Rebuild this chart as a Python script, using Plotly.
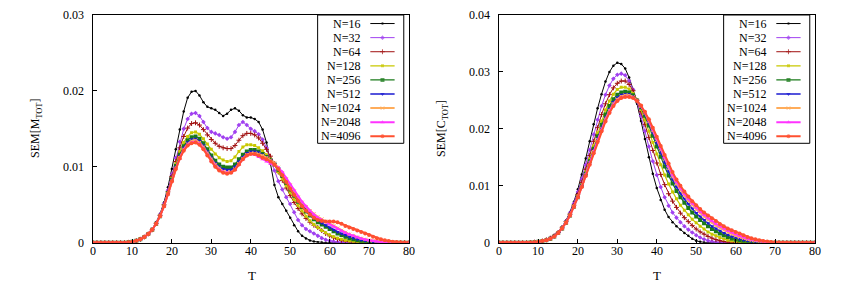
import plotly.graph_objects as go

# ---------------- data (values in units of 1e-3) ----------------
T = list(range(0, 81))
labels = ["N=16", "N=32", "N=64", "N=128", "N=256", "N=512", "N=1024", "N=2048", "N=4096"]
UNIT = 1e-3

M16 = [0,0,0,0,0,0,0,0,0,0.05,
       0.12,0.25,0.45,0.75,1.2,1.8,2.7,3.8,5.3,7.3,
       9.7,12.3,14.9,17.3,19.1,19.9,20.0,19.4,18.5,17.9,
       17.7,17.5,17.1,16.7,17.0,17.5,17.7,17.4,16.8,16.5,
       16.5,16.3,15.9,14.9,13.2,10.4,7.6,6.0,5.1,4.2,
       3.3,2.3,1.5,0.9,0.55,0.3,0.15,0.07,0.03,0,
       0,0,0,0,0,0,0,0,0,0,
       0,0,0,0,0,0,0,0,0,0,
       0]
M32 = [0,0,0,0,0,0,0,0,0,0.05,
       0.12,0.25,0.45,0.75,1.15,1.75,2.6,3.7,5.1,6.9,
       9.0,11.2,13.3,15.0,16.3,17.0,17.1,16.7,15.9,15.1,
       14.6,14.4,14.2,13.9,13.7,13.9,14.6,15.5,15.9,15.5,
       15.0,14.7,14.3,13.6,12.5,11.0,9.5,8.1,7.0,6.0,
       5.1,4.0,3.0,2.3,1.8,1.5,1.2,0.9,0.6,0.4,
       0.25,0.15,0.08,0.04,0,0,0,0,0,0,
       0,0,0,0,0,0,0,0,0,0,
       0]
M64 = [0,0,0,0,0,0,0,0,0,0.05,
       0.12,0.25,0.45,0.75,1.15,1.7,2.55,3.6,5.0,6.7,
       8.7,10.7,12.5,14.0,15.1,15.7,15.8,15.5,14.9,14.2,
       13.6,13.1,12.7,12.5,12.4,12.4,12.8,13.5,14.1,14.4,
       14.4,14.2,13.8,13.1,12.3,11.4,10.4,9.3,8.2,7.2,
       6.2,5.3,4.5,3.8,3.2,2.7,2.3,2.0,1.6,1.2,
       0.9,0.65,0.45,0.3,0.2,0.12,0.07,0.03,0,0,
       0,0,0,0,0,0,0,0,0,0,
       0]
M128 = [0,0,0,0,0,0,0,0,0,0.05,
        0.12,0.25,0.45,0.75,1.15,1.7,2.5,3.55,4.9,6.6,
        8.5,10.4,12.0,13.2,14.0,14.5,14.6,14.3,13.7,13.0,
        12.3,11.7,11.2,10.9,10.7,10.8,11.3,12.0,12.6,12.9,
        12.9,12.8,12.5,12.1,11.6,11.0,10.2,9.3,8.4,7.5,
        6.6,5.7,4.9,4.2,3.5,2.9,2.4,2.0,1.6,1.3,
        1.0,0.8,0.6,0.45,0.33,0.23,0.15,0.09,0.05,0.02,
        0,0,0,0,0,0,0,0,0,0,
        0]
M256 = [0,0,0,0,0,0,0,0,0,0.05,
        0.12,0.25,0.45,0.75,1.15,1.7,2.5,3.5,4.85,6.5,
        8.3,10.1,11.6,12.7,13.5,13.9,14.0,13.7,13.1,12.3,
        11.5,10.8,10.3,10.0,9.9,9.9,10.3,11.0,11.6,12.0,
        12.2,12.2,12.0,11.7,11.3,10.9,10.3,9.6,8.8,7.9,
        7.0,6.2,5.4,4.7,4.1,3.6,3.1,2.7,2.4,2.1,
        1.8,1.5,1.2,1.0,0.8,0.6,0.45,0.32,0.22,0.14,
        0.08,0.04,0.02,0,0,0,0,0,0,0,
        0]
M512 = [0,0,0,0,0,0,0,0,0,0.05,
        0.12,0.25,0.45,0.75,1.15,1.7,2.5,3.5,4.8,6.4,
        8.2,9.9,11.4,12.5,13.2,13.6,13.7,13.4,12.8,12.0,
        11.2,10.5,10.0,9.7,9.6,9.6,10.0,10.7,11.3,11.8,
        12.0,12.0,11.9,11.6,11.3,10.9,10.4,9.8,9.0,8.1,
        7.3,6.5,5.7,5.0,4.4,3.9,3.4,3.0,2.6,2.3,
        2.0,1.7,1.4,1.2,1.0,0.8,0.62,0.47,0.35,0.25,
        0.17,0.1,0.06,0.03,0,0,0,0,0,0,
        0]
M1024 = [0,0,0,0,0,0,0,0,0,0.05,
         0.12,0.25,0.45,0.75,1.15,1.7,2.5,3.5,4.8,6.4,
         8.1,9.8,11.2,12.3,13.0,13.4,13.5,13.2,12.6,11.8,
         11.0,10.3,9.8,9.4,9.3,9.3,9.7,10.4,11.1,11.6,
         11.8,11.8,11.7,11.5,11.2,10.9,10.5,9.9,9.2,8.4,
         7.6,6.8,6.0,5.3,4.7,4.2,3.8,3.4,3.1,2.8,
         2.5,2.2,1.9,1.6,1.35,1.1,0.9,0.72,0.56,0.43,
         0.32,0.23,0.16,0.1,0.06,0.03,0,0,0,0,
         0]
M2048 = [0,0,0,0,0,0,0,0,0,0.05,
         0.12,0.25,0.45,0.75,1.15,1.7,2.5,3.5,4.8,6.4,
         8.1,9.8,11.1,12.2,12.9,13.2,13.3,13.0,12.4,11.6,
         10.8,10.1,9.6,9.3,9.2,9.2,9.6,10.3,11.0,11.5,
         11.7,11.6,11.3,11.0,10.7,10.4,10.2,9.9,9.3,8.5,
         7.7,6.9,6.1,5.4,4.8,4.2,3.7,3.3,3.0,2.7,
         2.4,2.1,1.8,1.55,1.3,1.1,0.9,0.72,0.56,0.43,
         0.32,0.23,0.16,0.1,0.06,0.03,0,0,0,0,
         0]
M4096 = [0,0,0,0,0,0,0,0,0,0.05,
         0.12,0.25,0.45,0.75,1.15,1.7,2.5,3.5,4.8,6.4,
         8.1,9.7,11.1,12.1,12.8,13.1,13.2,12.9,12.3,11.5,
         10.7,10.0,9.5,9.2,9.1,9.2,9.6,10.3,11.0,11.5,
         11.7,11.7,11.5,11.2,11.0,10.7,10.3,9.7,8.9,8.0,
         7.1,6.3,5.5,4.8,4.2,3.7,3.3,3.0,2.85,2.8,
         2.8,2.8,2.7,2.5,2.2,2.0,1.8,1.6,1.4,1.2,
         1.0,0.8,0.6,0.45,0.33,0.22,0.14,0.08,0.05,0.03,
         0.02]

C16 = [0,0,0,0,0,0,0,0,0.03,0.1,
       0.2,0.3,0.5,0.8,1.3,1.9,2.8,3.9,5.4,7.2,
       9.4,12.0,14.8,17.8,20.8,23.6,26.1,28.3,30.0,31.1,
       31.6,31.4,30.6,29.0,26.9,24.4,21.4,18.2,15.0,12.1,
       9.6,7.5,5.8,4.5,3.6,2.9,2.3,1.7,1.2,0.7,
       0.35,0.15,0.05,0,0,0,0,0,0,0,
       0,0,0,0,0,0,0,0,0,0,
       0,0,0,0,0,0,0,0,0,0,
       0]
C32 = [0,0,0,0,0,0,0,0,0.03,0.1,
       0.2,0.3,0.5,0.8,1.2,1.8,2.7,3.8,5.2,6.9,
       8.9,11.2,13.7,16.3,19.0,21.6,24.0,26.0,27.6,28.8,
       29.5,29.7,29.4,28.4,26.9,24.8,22.3,19.6,16.9,14.3,
       11.9,9.8,8.0,6.5,5.3,4.4,3.6,2.9,2.3,1.8,
       1.3,0.9,0.6,0.35,0.2,0.1,0.04,0,0,0,
       0,0,0,0,0,0,0,0,0,0,
       0,0,0,0,0,0,0,0,0,0,
       0]
C64 = [0,0,0,0,0,0,0,0,0.03,0.1,
       0.2,0.3,0.5,0.8,1.2,1.8,2.6,3.7,5.0,6.6,
       8.5,10.6,12.9,15.3,17.8,20.2,22.5,24.4,26.0,27.2,
       28.0,28.4,28.4,27.8,26.7,25.0,23.0,20.8,18.5,16.2,
       14.0,12.0,10.2,8.6,7.3,6.2,5.2,4.4,3.7,3.0,
       2.4,1.9,1.5,1.1,0.8,0.55,0.35,0.2,0.1,0.05,
       0,0,0,0,0,0,0,0,0,0,
       0,0,0,0,0,0,0,0,0,0,
       0]
C128 = [0,0,0,0,0,0,0,0,0.03,0.08,
        0.15,0.28,0.45,0.7,1.1,1.8,2.6,3.6,4.9,6.4,
        8.2,10.2,12.4,14.7,17.0,19.3,21.4,23.3,24.9,26.1,
        26.9,27.3,27.3,27.0,26.2,25.0,23.4,21.6,19.6,17.6,
        15.6,13.7,11.9,10.3,8.9,7.7,6.6,5.7,4.9,4.1,
        3.5,2.9,2.4,1.9,1.5,1.2,0.9,0.65,0.45,0.3,
        0.18,0.1,0.05,0,0,0,0,0,0,0,
        0,0,0,0,0,0,0,0,0,0,
        0]
C256 = [0,0,0,0,0,0,0,0,0.03,0.08,
        0.15,0.28,0.45,0.7,1.1,1.7,2.5,3.5,4.8,6.3,
        8.0,10.0,12.1,14.3,16.5,18.7,20.7,22.5,24.0,25.2,
        26.0,26.4,26.5,26.4,25.9,25.0,23.8,22.3,20.6,18.8,
        16.9,15.1,13.4,11.8,10.4,9.1,8.0,7.0,6.1,5.3,
        4.6,4.0,3.4,2.9,2.4,2.0,1.6,1.3,1.0,0.75,
        0.55,0.4,0.27,0.17,0.1,0.05,0,0,0,0,
        0,0,0,0,0,0,0,0,0,0,
        0]
C512 = [0,0,0,0,0,0,0,0,0.03,0.08,
        0.15,0.28,0.45,0.7,1.1,1.7,2.5,3.5,4.8,6.3,
        8.0,9.9,12.0,14.1,16.2,18.3,20.2,22.0,23.5,24.7,
        25.5,26.0,26.1,26.1,25.7,25.0,23.9,22.6,21.0,19.3,
        17.5,15.8,14.1,12.5,11.1,9.8,8.7,7.7,6.8,6.0,
        5.2,4.6,4.0,3.4,2.9,2.5,2.1,1.7,1.4,1.1,
        0.85,0.65,0.48,0.34,0.23,0.15,0.09,0.05,0,0,
        0,0,0,0,0,0,0,0,0,0,
        0]
C1024 = [0,0,0,0,0,0,0,0,0.03,0.08,
         0.15,0.28,0.45,0.7,1.1,1.7,2.5,3.5,4.8,6.3,
         8.0,9.9,11.9,14.0,16.0,18.1,20.0,21.7,23.2,24.4,
         25.2,25.7,25.9,25.9,25.6,25.0,24.0,22.8,21.3,19.7,
         18.0,16.3,14.7,13.1,11.7,10.4,9.3,8.3,7.4,6.6,
         5.8,5.2,4.6,4.0,3.5,3.0,2.6,2.2,1.8,1.5,
         1.2,0.95,0.75,0.57,0.42,0.3,0.2,0.13,0.08,0.04,
         0,0,0,0,0,0,0,0,0,0,
         0]
C2048 = [0,0,0,0,0,0,0,0,0.03,0.08,
         0.15,0.28,0.45,0.7,1.1,1.7,2.5,3.5,4.8,6.3,
         8.0,9.9,11.8,13.9,15.9,17.9,19.8,21.5,23.0,24.2,
         25.0,25.5,25.7,25.7,25.5,24.9,24.0,22.9,21.5,19.9,
         18.3,16.6,15.0,13.5,12.0,10.7,9.6,8.6,7.7,6.9,
         6.2,5.5,4.9,4.3,3.8,3.3,2.9,2.5,2.1,1.8,
         1.5,1.2,0.95,0.75,0.57,0.42,0.3,0.2,0.13,0.08,
         0.04,0,0,0,0,0,0,0,0,0,
         0]
C4096 = [0,0,0,0,0,0,0,0,0.03,0.08,
         0.15,0.28,0.45,0.7,1.1,1.7,2.5,3.5,4.8,6.3,
         8.0,9.8,11.7,13.7,15.7,17.7,19.6,21.3,22.8,24.0,
         24.9,25.4,25.6,25.6,25.4,24.9,24.1,23.0,21.7,20.2,
         18.6,17.0,15.4,13.9,12.4,11.1,10.0,9.0,8.1,7.3,
         6.6,5.9,5.3,4.8,4.3,3.8,3.3,2.9,2.5,2.2,
         1.9,1.6,1.3,1.0,0.8,0.6,0.45,0.3,0.2,0.12,
         0.07,0.03,0.01,0,0,0,0,0,0,0,
         0]

M_series = [M16, M32, M64, M128, M256, M512, M1024, M2048, M4096]
C_series = [C16, C32, C64, C128, C256, C512, C1024, C2048, C4096]

x_ticks = [0, 10, 20, 30, 40, 50, 60, 70, 80]
x_tick_text = ["0", "10", "20", "30", "40", "50", "60", "70", "80"]
y1_ticks = [0, 0.01, 0.02, 0.03]
y1_tick_text = ["0", "0.01", "0.02", "0.03"]
y2_ticks = [0, 0.01, 0.02, 0.03, 0.04]
y2_tick_text = ["0", "0.01", "0.02", "0.03", "0.04"]

# ---------------- styles ----------------
colors = ["#000000", "#a040f0", "#a01010", "#c8c800", "#1a7a1a", "#1a1ad0", "#ffac5a", "#ff33ff", "#ff5030"]
symbols = ["circle", "diamond", "cross-thin", "square", "square", "triangle-down", "x-thin", "triangle-up", "circle"]
msizes = [2.5, 3.5, 3.5, 3, 4, 4, 3.5, 4, 4]
lwidths = [1, 1, 1, 1.2, 1.3, 1.3, 2, 2, 2]
FONT = "Liberation Serif"
TXT = dict(family=FONT, size=12, color="black")

# The browser puts the figure at an 8px body offset; figure is sized to fit the 849x294 window.
W, H, OFF = 841, 286, 8

def px(xp):
    return (xp - OFF) / W

def py(yp):
    return (H - (yp - OFF)) / H

fig = go.Figure()

def marker(i):
    m = dict(color=colors[i], symbol=symbols[i], size=msizes[i])
    if symbols[i] in ("cross-thin", "x-thin"):
        m["line"] = dict(color=colors[i], width=1)
    else:
        m["line"] = dict(width=0)
    return m

for i, lab in enumerate(labels):
    fig.add_trace(go.Scatter(x=T, y=[v * UNIT for v in M_series[i]], mode="lines+markers",
                             line=dict(color=colors[i], width=lwidths[i]), marker=marker(i),
                             name=lab, showlegend=False, xaxis="x", yaxis="y"))
for i, lab in enumerate(labels):
    fig.add_trace(go.Scatter(x=T, y=[v * UNIT for v in C_series[i]], mode="lines+markers",
                             line=dict(color=colors[i], width=lwidths[i]), marker=marker(i),
                             name=lab, showlegend=False, xaxis="x2", yaxis="y2"))

# ---------------- custom legends (text right, sample after it) ----------------
row0, rowstep = 0.9625, 0.0619
sx0, sx1 = 0.879, 0.956
for ov_x, ov_y in (("x3", "y3"), ("x4", "y4")):
    for i, lab in enumerate(labels):
        yy = row0 - i * rowstep
        fig.add_trace(go.Scatter(x=[sx0, (sx0 + sx1) / 2, sx1], y=[yy, yy, yy], mode="lines+markers",
                                 line=dict(color=colors[i], width=lwidths[i]),
                                 marker=dict(marker(i), size=[0, msizes[i], 0]),
                                 showlegend=False, hoverinfo="skip", xaxis=ov_x, yaxis=ov_y))

annotations = []
shapes = []
for xd, yd in (("x", "y"), ("x2", "y2")):
    shapes.append(dict(type="rect", xref=xd + " domain", yref=yd + " domain", x0=0.712, x1=0.985,
                       y0=0.4365, y1=1.0, line=dict(color="black", width=1), fillcolor="white", layer="below"))
    for i, lab in enumerate(labels):
        annotations.append(dict(text=lab, xref=xd + " domain", yref=yd + " domain", x=0.854,
                                y=row0 - i * rowstep, xanchor="right", yanchor="middle", showarrow=False,
                                font=TXT))

# tick labels (placed through the axes' own scales)
for xd, yd, yt, ytt in (("x", "y", y1_ticks, y1_tick_text), ("x2", "y2", y2_ticks, y2_tick_text)):
    for v, s in zip(x_ticks, x_tick_text):
        annotations.append(dict(text=s, xref=xd, yref=yd + " domain", x=v, y=0, yshift=-8,
                                xanchor="center", yanchor="middle", showarrow=False, font=TXT))
    for v, s in zip(yt, ytt):
        annotations.append(dict(text=s, xref=xd + " domain", yref=yd, x=0, y=v, xshift=-7,
                                xanchor="right", yanchor="middle", showarrow=False, font=TXT))

# axis titles
annotations.append(dict(text="T", xref="paper", yref="paper", x=px(251.5), y=py(275),
                        xanchor="center", yanchor="middle", showarrow=False, font=dict(TXT, size=13)))
annotations.append(dict(text="T", xref="paper", yref="paper", x=px(657), y=py(275),
                        xanchor="center", yanchor="middle", showarrow=False, font=dict(TXT, size=13)))
annotations.append(dict(text="SEM[M<sub>TOT</sub>]", xref="paper", yref="paper", x=px(36), y=py(129),
                        xanchor="center", yanchor="middle", textangle=-90, showarrow=False, font=TXT))
annotations.append(dict(text="SEM[C<sub>TOT</sub>]", xref="paper", yref="paper", x=px(442), y=py(129),
                        xanchor="center", yanchor="middle", textangle=-90, showarrow=False, font=TXT))

axis_common = dict(showline=True, linecolor="black", linewidth=1, mirror=True, ticks="inside",
                   ticklen=4, tickcolor="black", showgrid=False, zeroline=False, showticklabels=False)
ydom = [py(242.7), py(15)]
fig.update_layout(
    width=W, height=H, margin=dict(l=0, r=0, t=0, b=0),
    paper_bgcolor="white", plot_bgcolor="white", showlegend=False,
    xaxis=dict(axis_common, domain=[px(93), px(408.5)], range=[0, 80], tickvals=x_ticks, anchor="y"),
    yaxis=dict(axis_common, domain=ydom, range=[0, 0.03], tickvals=y1_ticks, anchor="x"),
    xaxis2=dict(axis_common, domain=[px(499), px(814.5)], range=[0, 80], tickvals=x_ticks, anchor="y2"),
    yaxis2=dict(axis_common, domain=ydom, range=[0, 0.04], tickvals=y2_ticks, anchor="x2"),
    xaxis3=dict(overlaying="x", range=[0, 1], visible=False, anchor="y3"),
    yaxis3=dict(overlaying="y", range=[0, 1], visible=False, anchor="x3"),
    xaxis4=dict(overlaying="x2", range=[0, 1], visible=False, anchor="y4"),
    yaxis4=dict(overlaying="y2", range=[0, 1], visible=False, anchor="x4"),
    annotations=annotations, shapes=shapes,
)
fig.write_html("out.html")
